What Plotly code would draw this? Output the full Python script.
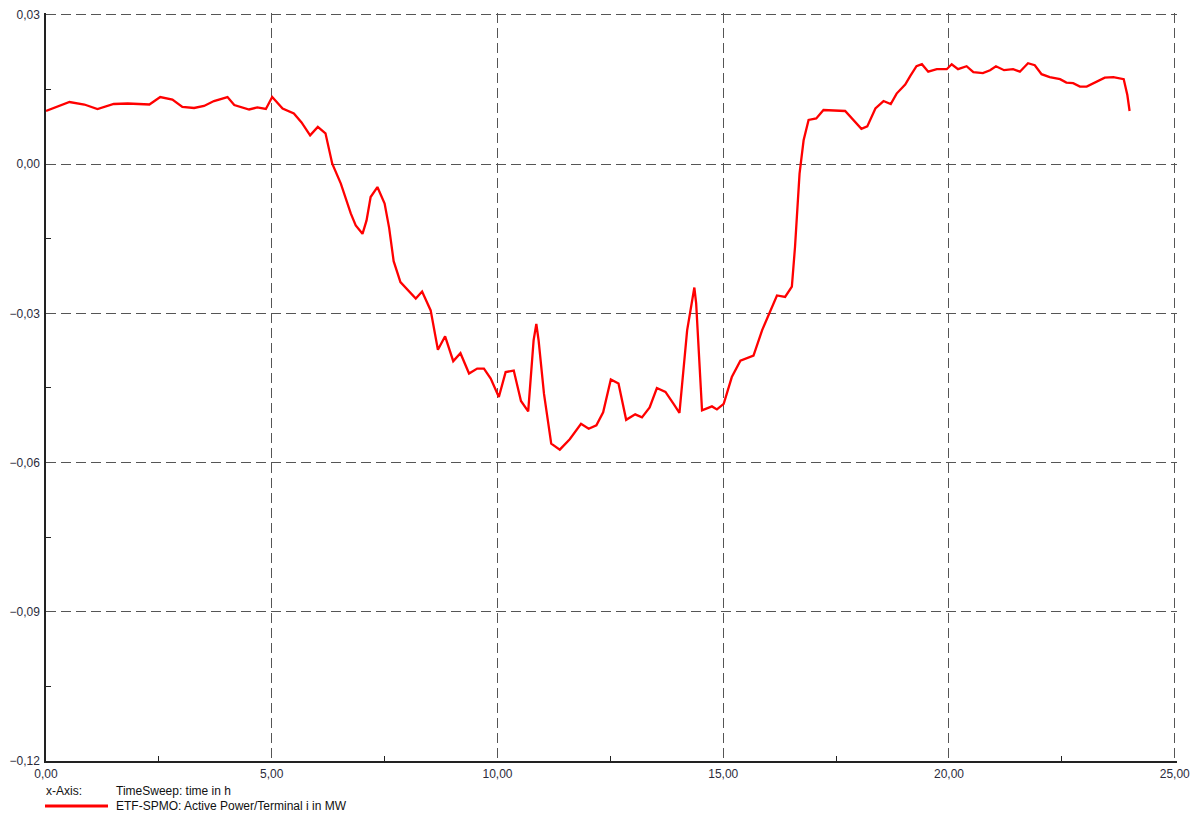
import plotly.graph_objects as go

hours = [0.00, 0.25, 0.52, 0.85, 1.14, 1.50, 1.81, 2.29, 2.53, 2.80, 3.02, 3.28, 3.50, 3.72,
         4.02, 4.17, 4.50, 4.68, 4.87, 5.01, 5.24, 5.49, 5.66, 5.85, 6.02, 6.19, 6.34, 6.53,
         6.75, 6.86, 7.01, 7.10, 7.19, 7.34, 7.50, 7.60, 7.70, 7.85, 8.19, 8.33, 8.52, 8.68,
         8.84, 9.02, 9.18, 9.37, 9.55, 9.70, 9.85, 10.03, 10.18, 10.36, 10.52, 10.68, 10.80,
         10.86, 10.91, 11.03, 11.19, 11.38, 11.60, 11.85, 12.02, 12.19, 12.34, 12.51, 12.68,
         12.85, 13.05, 13.20, 13.37, 13.53, 13.72, 13.90, 14.03, 14.20, 14.36, 14.40, 14.53,
         14.75, 14.86, 15.01, 15.19, 15.38, 15.67, 15.86, 16.19, 16.37, 16.52, 16.59, 16.69,
         16.78, 16.89, 17.06, 17.22, 17.70, 17.88, 18.06, 18.19, 18.37, 18.55, 18.71, 18.84,
         19.03, 19.14, 19.28, 19.40, 19.54, 19.73, 19.95, 20.06, 20.20, 20.39, 20.54, 20.75,
         20.91, 21.04, 21.22, 21.42, 21.57, 21.75, 21.90, 22.05, 22.23, 22.46, 22.60, 22.75,
         22.90, 23.05, 23.27, 23.45, 23.64, 23.87, 23.95, 24.00]

active_power_mw = [0.0107, 0.0115, 0.0125, 0.0120, 0.0111, 0.0121, 0.0122, 0.0120, 0.0135, 0.0130,
                   0.0115, 0.0113, 0.0117, 0.0127, 0.0135, 0.0119, 0.0110, 0.0114, 0.0111, 0.0135,
                   0.0112, 0.0102, 0.0084, 0.0058, 0.0075, 0.0062, 0.0001, -0.0039, -0.0099, -0.0123,
                   -0.0140, -0.0113, -0.0066, -0.0046, -0.0079, -0.0128, -0.0195, -0.0237, -0.0270,
                   -0.0256, -0.0294, -0.0373, -0.0346, -0.0396, -0.0380, -0.0421, -0.0411, -0.0411,
                   -0.0431, -0.0468, -0.0418, -0.0415, -0.0476, -0.0497, -0.0354, -0.0321, -0.0354,
                   -0.0462, -0.0562, -0.0574, -0.0553, -0.0522, -0.0532, -0.0525, -0.0499, -0.0433,
                   -0.0441, -0.0514, -0.0503, -0.0509, -0.0489, -0.0450, -0.0458, -0.0482, -0.0500,
                   -0.0334, -0.0248, -0.0280, -0.0495, -0.0487, -0.0493, -0.0482, -0.0428, -0.0395,
                   -0.0385, -0.0334, -0.0264, -0.0267, -0.0246, -0.0166, -0.0019, 0.0048, 0.0089,
                   0.0092, 0.0109, 0.0107, 0.0089, 0.0071, 0.0076, 0.0112, 0.0127, 0.0121, 0.0142,
                   0.0160, 0.0177, 0.0197, 0.0201, 0.0186, 0.0191, 0.0191, 0.0201, 0.0191, 0.0197,
                   0.0185, 0.0183, 0.0189, 0.0197, 0.0189, 0.0191, 0.0186, 0.0203, 0.0199, 0.0181,
                   0.0175, 0.0171, 0.0164, 0.0163, 0.0156, 0.0156, 0.0166, 0.0174, 0.0175, 0.0171,
                   0.0139, 0.0107]

x_axis_label = "TimeSweep: time in h"
series_name = "ETF-SPMO: Active Power/Terminal i in MW"

FONT = "Liberation Sans, Arial, sans-serif"
GRID = "#555555"

fig = go.Figure()
fig.add_trace(go.Scatter(x=hours, y=active_power_mw, mode="lines", name=series_name,
                         line=dict(color="#ff0000", width=2.3), showlegend=False))

# page has an 8px body margin, so offsets are compensated here
fig.update_layout(
    width=1200, height=814,
    margin=dict(l=38, r=31, t=5, b=61, autoexpand=False),
    paper_bgcolor="white", plot_bgcolor="white",
    separators=", ",
    font=dict(family=FONT, size=12, color="#2b2b3b"),
    xaxis=dict(range=[0, 25.05], dtick=5, tick0=0, tickformat=".2f",
               showgrid=True, gridcolor=GRID, gridwidth=1.3, griddash="10px,5px",
               zeroline=False, showline=True, linecolor="#222222", linewidth=1.5,
               ticks="", ticklabelstandoff=1,
               minor=dict(dtick=2.5, tick0=0, ticks="inside", ticklen=5, tickcolor="#222222",
                          showgrid=False)),
    yaxis=dict(range=[-0.12, 0.0304], dtick=0.03, tick0=0, tickformat=".2f",
               showgrid=True, gridcolor=GRID, gridwidth=1.3, griddash="10px,5px",
               zeroline=False, showline=True, linecolor="#222222", linewidth=1.5,
               ticks="", ticklabelstandoff=2,
               minor=dict(dtick=0.015, tick0=0, ticks="inside", ticklen=5, tickcolor="#222222",
                          showgrid=False)),
)

fig.add_annotation(text="x-Axis:", xref="paper", yref="paper", x=0, y=0, xanchor="left",
                   yanchor="middle", xshift=-2, yshift=-30, showarrow=False,
                   font=dict(family=FONT, size=12, color="#111111"))
fig.add_annotation(text=x_axis_label, xref="paper", yref="paper", x=0, y=0, xanchor="left",
                   yanchor="middle", xshift=68, yshift=-30, showarrow=False,
                   font=dict(family=FONT, size=12, color="#111111"))
fig.add_annotation(text=series_name, xref="paper", yref="paper", x=0, y=0, xanchor="left",
                   yanchor="middle", xshift=68, yshift=-45, showarrow=False,
                   font=dict(family=FONT, size=12, color="#111111"))
fig.add_shape(type="line", xref="paper", yref="paper", xsizemode="pixel", ysizemode="pixel",
              xanchor=0, yanchor=0, x0=-1, x1=62, y0=-45, y1=-45,
              line=dict(color="#ff0000", width=3))

fig.write_html("out.html")
